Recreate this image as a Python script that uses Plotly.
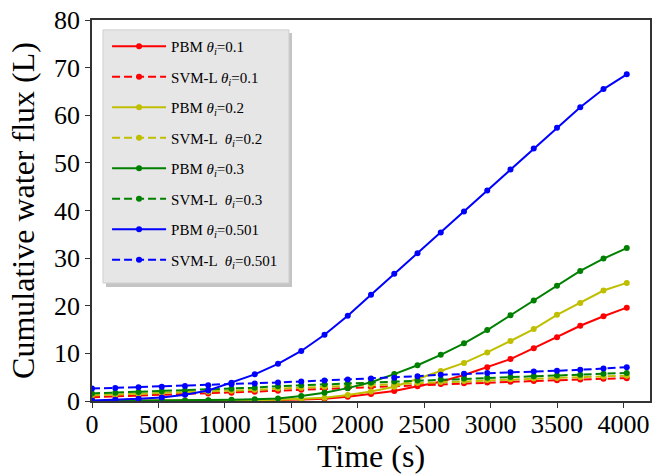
import plotly.graph_objects as go

# Time stamps (s)
time_s = [0, 175, 350, 525, 700, 875, 1050, 1225, 1400, 1575, 1750, 1925,
          2100, 2275, 2450, 2625, 2800, 2975, 3150, 3325, 3500, 3675, 3850, 4025]

# Cumulative water flux (L)
pbm_01 = [0.0, 0.01, 0.02, 0.03, 0.05, 0.07, 0.1, 0.14, 0.2, 0.32, 0.45, 0.9,
          1.45, 2.1, 3.1, 4.05, 5.45, 7.1, 8.8, 11.1, 13.4, 15.8, 17.8, 19.6]
svm_01 = [0.8, 0.95, 1.1, 1.25, 1.4, 1.55, 1.75, 1.95, 2.15, 2.35, 2.55, 2.75,
          2.95, 3.15, 3.35, 3.55, 3.75, 3.9, 4.05, 4.2, 4.35, 4.5, 4.65, 4.8]
pbm_02 = [0.0, 0.01, 0.02, 0.04, 0.06, 0.09, 0.13, 0.18, 0.25, 0.4, 0.7, 1.25,
          2.0, 3.0, 4.6, 6.3, 8.0, 10.2, 12.6, 15.1, 18.1, 20.6, 23.2, 24.8]
svm_02 = [1.2, 1.35, 1.5, 1.65, 1.8, 1.95, 2.15, 2.35, 2.6, 2.8, 3.0, 3.2,
          3.4, 3.6, 3.8, 4.0, 4.2, 4.4, 4.55, 4.7, 4.85, 5.0, 5.15, 5.3]
pbm_03 = [0.0, 0.02, 0.05, 0.08, 0.12, 0.18, 0.25, 0.38, 0.55, 1.05, 1.75, 2.7,
          3.95, 5.65, 7.5, 9.7, 12.1, 14.9, 18.0, 21.1, 24.2, 27.3, 29.9, 32.1]
svm_03 = [1.6, 1.75, 1.9, 2.05, 2.2, 2.35, 2.55, 2.8, 3.1, 3.3, 3.5, 3.7,
          3.9, 4.1, 4.3, 4.5, 4.7, 4.9, 5.05, 5.2, 5.35, 5.5, 5.7, 5.9]
pbm_0501 = [0.1, 0.25, 0.45, 0.75, 1.3, 2.2, 3.85, 5.6, 7.8, 10.5, 13.9, 17.9,
            22.3, 26.7, 31.0, 35.4, 39.8, 44.2, 48.6, 53.0, 57.4, 61.7, 65.5, 68.6]
svm_0501 = [2.6, 2.75, 2.9, 3.0, 3.15, 3.3, 3.5, 3.7, 3.9, 4.1, 4.3, 4.5,
            4.7, 4.9, 5.2, 5.5, 5.7, 5.9, 6.05, 6.2, 6.35, 6.55, 6.8, 7.1]

series_names = [
    "PBM <i>θ</i><sub><i>i</i></sub>=0.1",
    "SVM-L <i>θ</i><sub><i>i</i></sub>=0.1",
    "PBM <i>θ</i><sub><i>i</i></sub>=0.2",
    "SVM-L  <i>θ</i><sub><i>i</i></sub>=0.2",
    "PBM <i>θ</i><sub><i>i</i></sub>=0.3",
    "SVM-L  <i>θ</i><sub><i>i</i></sub>=0.3",
    "PBM <i>θ</i><sub><i>i</i></sub>=0.501",
    "SVM-L  <i>θ</i><sub><i>i</i></sub>=0.501",
]
series_values = [pbm_01, svm_01, pbm_02, svm_02, pbm_03, svm_03, pbm_0501, svm_0501]
series_colors = ["#ff0000", "#ff0000", "#bfbf00", "#bfbf00",
                 "#008000", "#008000", "#0000ff", "#0000ff"]
series_dash = ["solid", "8px,4px"] * 4

FONT = "Liberation Serif, Times New Roman, serif"

fig = go.Figure()
for i, (name, vals, col, dash) in enumerate(zip(series_names, series_values, series_colors, series_dash)):
    fig.add_trace(go.Scatter(
        x=time_s, y=vals, name=name, mode="lines+markers",
        line=dict(color=col, width=2, dash=dash),
        marker=dict(color=col, size=6, symbol="circle"),
        legendgroup=f"g{i}",
        cliponaxis=True,
    ))

# legend shadow and background box
fig.add_shape(type="rect", xref="paper", yref="paper",
              x0=0.0251, x1=0.3584, y0=0.2992, y1=0.9659,
              fillcolor="#c4c4c4", line=dict(width=0), layer="above")
fig.add_shape(type="rect", xref="paper", yref="paper",
              x0=0.0197, x1=0.353, y0=0.3097, y1=0.974,
              fillcolor="#e6e6e6", line=dict(color="#cfcfcf", width=1), layer="above")

fig.update_layout(
    width=654, height=474, autosize=False,
    margin=dict(l=92, r=4, t=20, b=73),
    paper_bgcolor="white", plot_bgcolor="white",
    font=dict(family=FONT, color="black"),
    showlegend=True,
    legend=dict(
        x=0.027, y=0.974, xanchor="left", yanchor="top",
        bgcolor="rgba(0,0,0,0)", borderwidth=0,
        font=dict(family=FONT, size=15, color="black"),
        tracegroupgap=8,
        itemwidth=54,
    ),
    xaxis=dict(
        range=[0, 4200], tick0=0, dtick=500, tickformat="d",
        showgrid=False, zeroline=False,
        showline=True, linecolor="#333333", linewidth=1.5, mirror=True,
        ticks="outside", ticklen=5, tickwidth=1.2, tickcolor="#333333",
        tickfont=dict(family=FONT, size=26, color="black"),
        ticklabelstandoff=-6,
        title=dict(text="Time (s)", font=dict(family=FONT, size=32, color="black"), standoff=8),
        automargin=False,
    ),
    yaxis=dict(
        range=[0, 80], tick0=0, dtick=10, tickformat="d",
        showgrid=False, zeroline=False,
        showline=True, linecolor="#333333", linewidth=1.5, mirror=True,
        ticks="outside", ticklen=5, tickwidth=1.2, tickcolor="#333333",
        tickfont=dict(family=FONT, size=26, color="black"),
        title=dict(text="Cumulative water flux (L)", font=dict(family=FONT, size=32, color="black"), standoff=10),
        automargin=False,
    ),
)

fig.write_html("out.html", config={"displayModeBar": False},
               post_script="document.body.style.margin='0';document.body.style.overflow='hidden';")
